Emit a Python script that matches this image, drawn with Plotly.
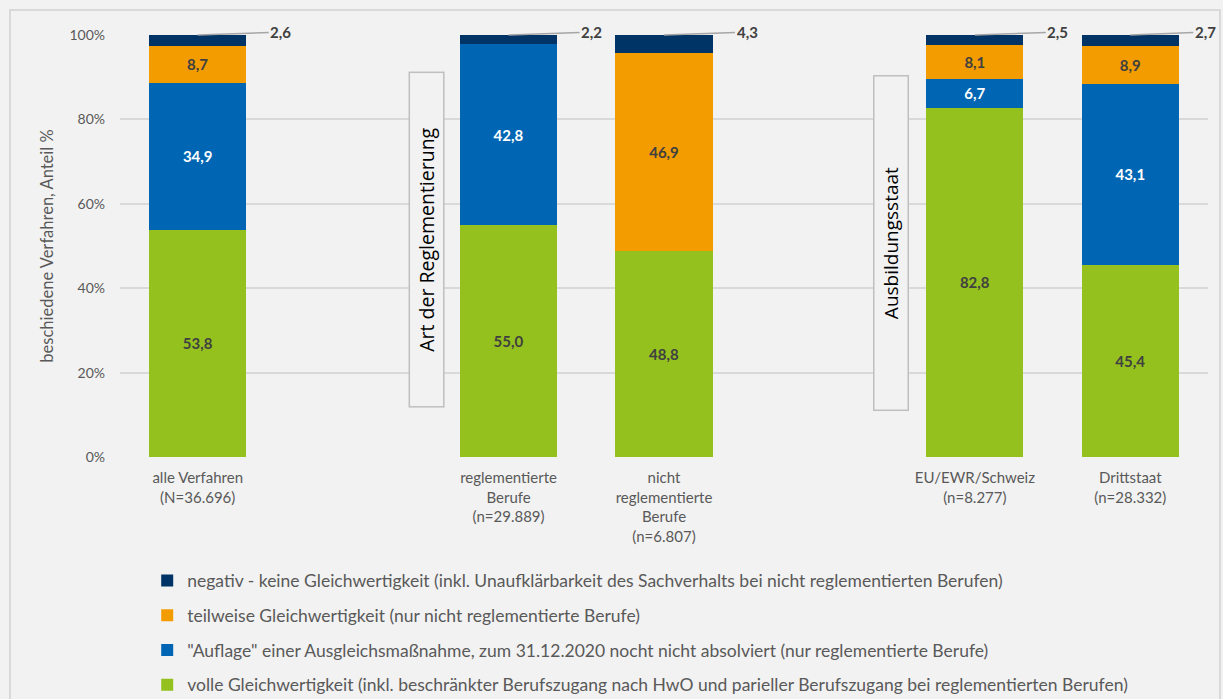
import plotly.graph_objects as go

categories = ["alle Verfahren<br>(N=36.696)", "", "reglementierte<br>Berufe<br>(n=29.889)",
              "nicht<br>reglementierte<br>Berufe<br>(n=6.807)", "", "EU/EWR/Schweiz<br>(n=8.277)",
              "Drittstaat<br>(n=28.332)"]
x_pos = [0, 1, 2, 3, 4, 5, 6]

volle = [53.8, None, 55.0, 48.8, None, 82.8, 45.4]
auflage = [34.9, None, 42.8, 0, None, 6.7, 43.1]
teilweise = [8.7, None, 0, 46.9, None, 8.1, 8.9]
negativ = [2.6, None, 2.2, 4.3, None, 2.5, 2.7]

names = [
    "volle Gleichwertigkeit (inkl. beschränkter Berufszugang nach HwO und parieller Berufszugang bei reglementierten Berufen)",
    "\"Auflage\" einer Ausgleichsmaßnahme, zum 31.12.2020 nocht nicht absolviert (nur reglementierte Berufe)",
    "teilweise Gleichwertigkeit (nur nicht reglementierte Berufe)",
    "negativ - keine Gleichwertigkeit (inkl. Unaufklärbarkeit des Sachverhalts bei nicht reglementierten Berufen)",
]
colors = ["#95c11f", "#0066b3", "#f39c00", "#003366"]
text_colors = ["#404040", "#ffffff", "#404040", "#ffffff"]

FONT = "Lato"

def fmt(v):
    if v is None or v == 0:
        return ""
    return f"{v:.1f}".replace(".", ",")

fig = go.Figure()
series = [volle, auflage, teilweise, negativ]
for i, (vals, name, col, tc) in enumerate(zip(series, names, colors, text_colors)):
    show_text = i < 3
    fig.add_trace(go.Bar(
        x=x_pos, y=[v if v is not None else 0 for v in vals], name=name,
        marker=dict(color=col, line=dict(width=0)),
        width=0.625,
        text=[fmt(v) if show_text else "" for v in vals],
        textposition="inside", insidetextanchor="middle",
        textfont=dict(family=FONT, size=15, color=tc, weight="bold"),
        legendgroup=f"g{i}",
        legendrank=1000 - i,
        hoverinfo="skip",
    ))

# leader-line labels for the small top segments
offsets = [83, None, 83, 83, None, 83, 75]
for xi, v, off in zip(x_pos, negativ, offsets):
    if v is None:
        continue
    fig.add_annotation(
        x=xi, y=100, xref="x", yref="y", text=fmt(v),
        showarrow=True, arrowhead=0, arrowwidth=1.5, arrowcolor="#a6a6a6",
        ax=off, ay=-3, standoff=0,
        font=dict(family=FONT, size=15, color="#404040", weight="bold"),
        bgcolor="#f2f2f2",
    )

# group boxes
for txt, xc, yc, fs in [("Art der Reglementierung", 0.2813, 0.5154, 19.5),
                        ("Ausbildungsstaat", 0.7082, 0.5059, 19)]:
    fig.add_annotation(
        x=xc, y=yc, xref="paper", yref="paper", text=txt, showarrow=False,
        xanchor="center", yanchor="middle",
        textangle=-90, width=331, height=31,
        font=dict(family="Open Sans", size=fs, color="#000000"),
        bgcolor="#f2f2f2", bordercolor="#bfbfbf", borderwidth=1.5,
    )

# outer frame
fig.add_shape(type="rect", xref="paper", yref="paper",
              x0=-0.1011, x1=1.011, y0=-0.6, y1=1.0592,
              line=dict(color="#d9d9d9", width=2), fillcolor="rgba(0,0,0,0)", layer="below")

fig.update_layout(
    width=1223, height=699,
    barmode="stack",
    paper_bgcolor="#f2f2f2", plot_bgcolor="#f2f2f2",
    margin=dict(l=120, r=15, t=35, b=242, autoexpand=False),
    font=dict(family=FONT, size=14, color="#595959"),
    xaxis=dict(tickmode="array", tickvals=x_pos, ticktext=categories, range=[-0.5, 6.5],
               showgrid=False, zeroline=False, showline=False, ticks="",
               ticklabelstandoff=10, automargin=False,
               tickfont=dict(family=FONT, size=15, color="#595959")),
    yaxis=dict(range=[0, 100], tickvals=[0, 20, 40, 60, 80, 100],
               ticktext=["0%", "20%", "40%", "60%", "80%", "100%"],
               showgrid=True, gridcolor="#d9d9d9", gridwidth=1.5, zeroline=False,
               ticks="", ticklabelstandoff=14, automargin=False,
               title=dict(text="beschiedene Verfahren, Anteil %", standoff=11,
                          font=dict(family=FONT, size=16.5, color="#595959")),
               tickfont=dict(family=FONT, size=14, color="#595959")),
    legend=dict(orientation="v", x=0.025, xanchor="left", y=-0.25, yanchor="top",
                traceorder="grouped", tracegroupgap=9,
                font=dict(family=FONT, size=17.5, color="#595959"),
                bgcolor="rgba(0,0,0,0)"),
    showlegend=True,
)

fig.write_html("out.html")
